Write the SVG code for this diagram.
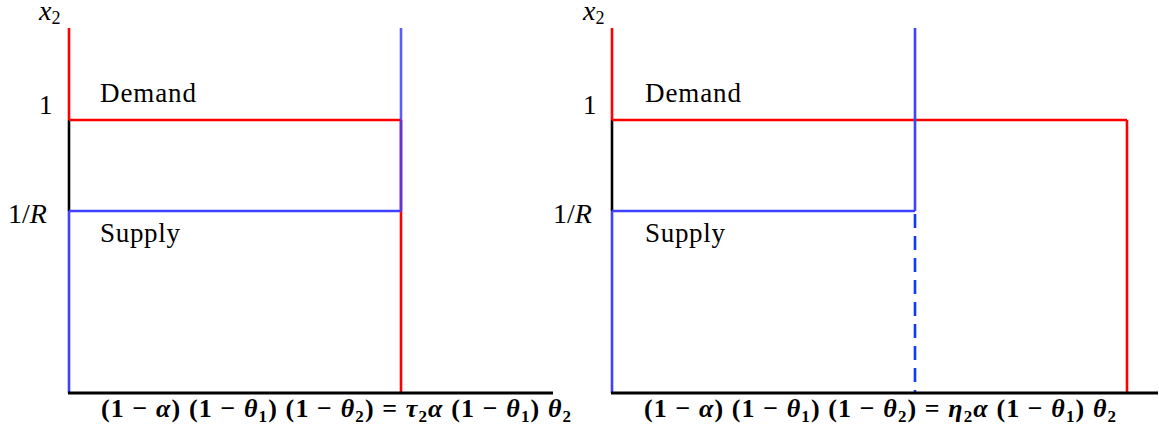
<svg xmlns="http://www.w3.org/2000/svg" width="1159" height="430" viewBox="0 0 1159 430">
<style>
text{font-family:"Liberation Serif","DejaVu Serif",serif;fill:#000}
.lbl{font-size:27px}
.eq{font-size:26px;font-weight:bold}
.ax{font-size:28px}
.m{font-style:italic}
.red{stroke:#ff0000;stroke-width:2.6;fill:none}
.blue{stroke:#4040ff;stroke-width:2.6;fill:none}
.dash{stroke:#1038ff;stroke-width:2.6;fill:none;stroke-dasharray:14 8}
.blk{stroke:#000;stroke-width:2.6;fill:none}
.axis{stroke:#000;stroke-width:3;fill:none}
</style>
<rect width="1159" height="430" fill="#fff"/>
<g id="connectors">
<!-- left panel -->
<line class="red" x1="69" y1="28" x2="69" y2="120"/>
<line class="blk" x1="69" y1="120" x2="69" y2="211"/>
<line class="blue" x1="69" y1="211" x2="69" y2="393"/>
<line class="red" x1="69" y1="120" x2="401" y2="120"/>
<line class="red" x1="401" y1="120" x2="401" y2="393"/>
<line class="blue" x1="69" y1="211" x2="401" y2="211"/>
<line class="blue" x1="401" y1="28" x2="401" y2="211" stroke-opacity="0.85"/>
<line class="axis" x1="68" y1="393" x2="553" y2="393"/>
<!-- right panel -->
<line class="red" x1="612" y1="28" x2="612" y2="120"/>
<line class="blk" x1="612" y1="120" x2="612" y2="211"/>
<line class="blue" x1="612" y1="211" x2="612" y2="393"/>
<line class="red" x1="612" y1="120" x2="1127" y2="120"/>
<line class="red" x1="1127" y1="120" x2="1127" y2="393"/>
<line class="blue" x1="612" y1="211" x2="915" y2="211"/>
<line class="blue" x1="915" y1="28" x2="915" y2="211"/>
<line class="dash" x1="915" y1="214" x2="915" y2="393"/>
<line class="axis" x1="611" y1="393" x2="1158" y2="393"/>
</g>
<g id="left-labels">
<text class="ax" x="39" y="20"><tspan class="m">x</tspan><tspan font-size="18" dy="4">2</tspan></text>
<text class="lbl" x="39" y="114">1</text>
<text class="lbl" x="100" y="102" textLength="96">Demand</text>
<text class="ax" x="8" y="223">1/<tspan class="m">R</tspan></text>
<text class="lbl" x="100" y="242" textLength="80">Supply</text>
<text class="eq" x="101" y="417" textLength="470" lengthAdjust="spacing">(1 − <tspan class="m">α</tspan>) (1 − <tspan class="m">θ</tspan><tspan font-size="17" dy="5">1</tspan><tspan dy="-5">) (1 − </tspan><tspan class="m">θ</tspan><tspan font-size="17" dy="5">2</tspan><tspan dy="-5">) = </tspan><tspan class="m">τ</tspan><tspan font-size="17" dy="5">2</tspan><tspan class="m" dy="-5">α</tspan> (1 − <tspan class="m">θ</tspan><tspan font-size="17" dy="5">1</tspan><tspan dy="-5">) </tspan><tspan class="m">θ</tspan><tspan font-size="17" dy="5">2</tspan></text>
</g>
<g id="right-labels">
<text class="ax" x="583" y="20"><tspan class="m">x</tspan><tspan font-size="18" dy="4">2</tspan></text>
<text class="lbl" x="583" y="114">1</text>
<text class="lbl" x="645" y="102" textLength="96">Demand</text>
<text class="ax" x="553" y="223">1/<tspan class="m">R</tspan></text>
<text class="lbl" x="645" y="242" textLength="80">Supply</text>
<text class="eq" x="644" y="417" textLength="472" lengthAdjust="spacing">(1 − <tspan class="m">α</tspan>) (1 − <tspan class="m">θ</tspan><tspan font-size="17" dy="5">1</tspan><tspan dy="-5">) (1 − </tspan><tspan class="m">θ</tspan><tspan font-size="17" dy="5">2</tspan><tspan dy="-5">) = </tspan><tspan class="m">η</tspan><tspan font-size="17" dy="5">2</tspan><tspan class="m" dy="-5">α</tspan> (1 − <tspan class="m">θ</tspan><tspan font-size="17" dy="5">1</tspan><tspan dy="-5">) </tspan><tspan class="m">θ</tspan><tspan font-size="17" dy="5">2</tspan></text>
</g>
</svg>
